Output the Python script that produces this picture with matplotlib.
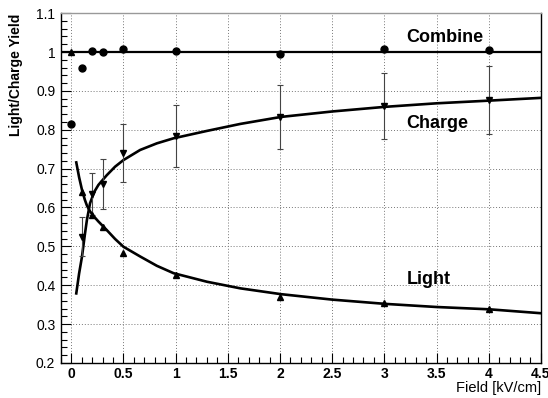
import numpy as np
import matplotlib
matplotlib.use('Agg')
import matplotlib.pyplot as plt
from matplotlib.ticker import MultipleLocator

plt.rcParams['font.family'] = ['Liberation Sans', 'DejaVu Sans']

# ── Data ─────────────────────────────────────────────────────────────────────
combine_field = [0.0, 0.1, 0.2, 0.3, 0.5, 1.0, 2.0, 3.0, 4.0]
combine_yield = [0.815, 0.960, 1.003, 1.000, 1.009, 1.003, 0.995, 1.008, 1.006]

light_field = [0.0, 0.1, 0.2, 0.3, 0.5, 1.0, 2.0, 3.0, 4.0]
light_yield = [1.000, 0.641, 0.581, 0.550, 0.482, 0.427, 0.369, 0.354, 0.338]

charge_field = [0.1, 0.2, 0.3, 0.5, 1.0, 2.0, 3.0, 4.0]
charge_yield = [0.525, 0.635, 0.660, 0.740, 0.784, 0.833, 0.861, 0.876]
charge_err   = [0.050, 0.055, 0.065, 0.075, 0.080, 0.083, 0.085, 0.087]

# fitted curves, sampled by eye from the figure
curve_field  = [0.048, 0.075, 0.103, 0.13, 0.15, 0.18, 0.22, 0.26, 0.34, 0.42, 0.50,
                0.66, 0.82, 0.98, 1.30, 1.62, 2.01, 2.50, 3.01, 3.50, 4.01, 4.50]
charge_curve = [0.379, 0.430, 0.474, 0.530, 0.568, 0.611, 0.640, 0.658, 0.683, 0.705, 0.722,
                0.748, 0.765, 0.778, 0.797, 0.815, 0.833, 0.847, 0.859, 0.868, 0.875, 0.882]
light_curve  = [0.716, 0.678, 0.645, 0.620, 0.605, 0.590, 0.576, 0.564, 0.542, 0.519, 0.499,
                0.474, 0.450, 0.431, 0.409, 0.392, 0.377, 0.363, 0.352, 0.344, 0.338, 0.328]

combine_level = 1.0

# ── Figure ───────────────────────────────────────────────────────────────────
fig = plt.figure(figsize=(5.48, 3.98), dpi=100)
ax = fig.add_axes([0.111, 0.088, 0.876, 0.879])

ax.axhline(combine_level, color='black', lw=1.6, zorder=3)
ax.plot(curve_field, charge_curve, color='black', lw=1.9, zorder=3)
ax.plot(curve_field, light_curve, color='black', lw=1.9, zorder=3)

ax.errorbar(charge_field, charge_yield, yerr=charge_err, fmt='v', color='black',
            ecolor='#444444', elinewidth=0.8, capsize=2.5, capthick=0.8,
            markersize=4.5, zorder=4)
ax.plot(light_field, light_yield, '^', color='black', markersize=4.5, zorder=4)
ax.plot(combine_field, combine_yield, 'o', color='black', markersize=5, zorder=4)

ax.set_xlim(-0.1, 4.5)
ax.set_ylim(0.2, 1.1)
ax.xaxis.set_major_locator(MultipleLocator(0.5))
ax.xaxis.set_minor_locator(MultipleLocator(0.1))
ax.yaxis.set_major_locator(MultipleLocator(0.1))
ax.yaxis.set_minor_locator(MultipleLocator(0.02))
ax.xaxis.set_major_formatter(plt.FuncFormatter(lambda v, p: f'{v:g}'))
ax.yaxis.set_major_formatter(plt.FuncFormatter(lambda v, p: f'{v:g}'))

ax.tick_params(which='both', direction='in', top=False, right=False, width=0.8)
ax.tick_params(which='major', length=7)
ax.tick_params(which='minor', length=4)
ax.tick_params(axis='x', labelsize=10, pad=3)
ax.tick_params(axis='y', labelsize=10, pad=4)
for lbl in ax.get_xticklabels():
    lbl.set_fontweight('bold')

ax.grid(True, which='major', linestyle=(0, (1, 2)), color='#777777', lw=0.7)
for s in ax.spines.values():
    s.set_linewidth(1.0)
ax.spines['top'].set_color('#999999')

ax.set_ylabel('Light/Charge Yield', fontsize=10, fontweight='bold')
ax.yaxis.set_label_coords(-0.078, 1.0)
ax.yaxis.label.set_horizontalalignment('right')
ax.set_xlabel('Field [kV/cm]', fontsize=10.5)
ax.xaxis.set_label_coords(1.0, -0.052)
ax.xaxis.label.set_horizontalalignment('right')
ax.xaxis.label.set_verticalalignment('top')

ax.text(3.21, 1.037, 'Combine', fontsize=13, fontweight='bold', va='center', ha='left')
ax.text(3.21, 0.817, 'Charge', fontsize=13, fontweight='bold', va='center', ha='left')
ax.text(3.21, 0.414, 'Light', fontsize=13, fontweight='bold', va='center', ha='left')

fig.savefig('out.png', dpi=100)
